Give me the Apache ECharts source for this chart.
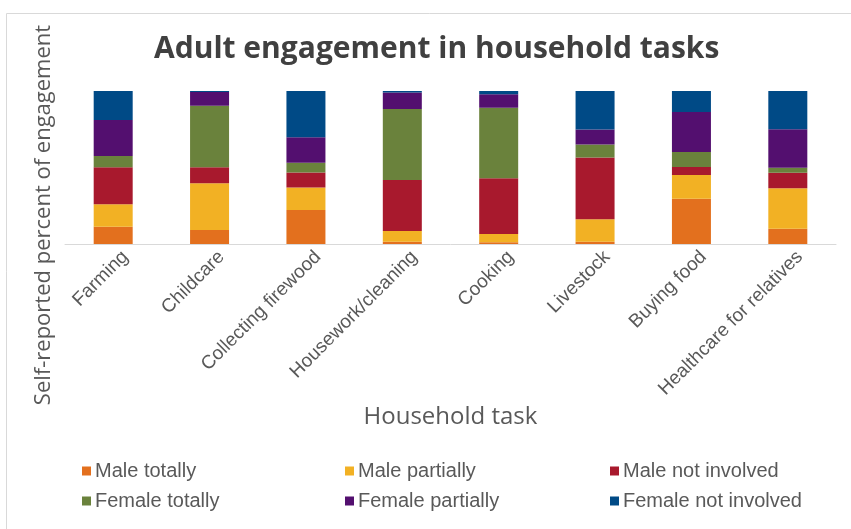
<!DOCTYPE html>
<html>
<head>
<meta charset="utf-8">
<script src="https://cdn.jsdelivr.net/npm/echarts@6/dist/echarts.min.js"></script>
<style>
  html, body { margin: 0; padding: 0; background: #fff; }
  #chart { width: 851px; height: 529px; }
</style>
</head>
<body>
<div id="chart"></div>
<script>
// categories and series values (percent of engagement)
const tasks = ["Farming", "Childcare", "Collecting firewood", "Housework/cleaning",
  "Cooking", "Livestock", "Buying food", "Healthcare for relatives"];
const maleTotally = [11.3, 9.2, 22.2, 1.5, 1.1, 1.5, 29.6, 10.0];
const malePartially = [14.6, 30.5, 14.8, 7.0, 5.4, 14.6, 15.5, 26.4];
const maleNotInvolved = [24.2, 10.5, 9.8, 33.3, 36.4, 40.5, 5.2, 10.2];
const femaleTotally = [7.4, 40.2, 6.3, 46.4, 46.2, 8.5, 9.8, 3.3];
const femalePartially = [23.5, 8.9, 16.6, 10.9, 8.7, 9.8, 26.1, 25.1];
const femaleNotInvolved = [19.0, 0.7, 30.3, 0.9, 2.2, 25.1, 13.8, 25.0];

const names = ["Male totally", "Male partially", "Male not involved",
  "Female totally", "Female partially", "Female not involved"];
const colors = ["#E3701E", "#F2B124", "#A8192D", "#6A823C", "#530F6F", "#004A86"];
const values = [maleTotally, malePartially, maleNotInvolved,
  femaleTotally, femalePartially, femaleNotInvolved];

// legend slots: 3 columns x 2 rows
const legendPos = [
  [77, 456], [340, 456], [605, 456],
  [77, 486], [340, 486], [605, 486]
];

let myChart = echarts.init(document.getElementById("chart"));
myChart.setOption({
  animation: false,
  color: colors,
  title: {
    text: "Adult engagement in household tasks",
    left: 149,
    top: 29,
    textStyle: {
      color: "#404040",
      fontFamily: "Open Sans",
      fontWeight: "bold",
      fontSize: 30
    }
  },
  graphic: [{
    type: "rect",
    shape: { x: 6.5, y: 13.5, width: 900, height: 600 },
    style: { fill: "none", stroke: "#d9d9d9", lineWidth: 1 },
    silent: true
  }],
  legend: names.map((n, i) => ({
    data: [n],
    left: legendPos[i][0],
    top: legendPos[i][1],
    itemWidth: 9,
    itemHeight: 9,
    itemGap: 4,
    icon: "rect",
    textStyle: {
      color: "#595959",
      fontFamily: "Liberation Sans",
      fontSize: 20,
      padding: [0, 0, 0, -1]
    }
  })),
  grid: {
    left: 65,
    right: 15,
    top: 91,
    bottom: 285
  },
  xAxis: {
    type: "category",
    data: tasks,
    name: "Household task",
    nameLocation: "middle",
    nameGap: 161,
    nameTextStyle: {
      color: "#595959",
      fontFamily: "Open Sans",
      fontSize: 24
    },
    axisLine: { lineStyle: { color: "#d9d9d9" } },
    axisTick: { show: false },
    axisLabel: {
      rotate: 45,
      margin: 22,
      padding: [0, -17, 0, 0],
      color: "#595959",
      fontFamily: "Liberation Sans",
      fontSize: 19
    }
  },
  yAxis: {
    type: "value",
    min: 0,
    max: 100,
    name: "Self-reported percent of engagement",
    nameLocation: "middle",
    nameGap: 10,
    nameTextStyle: {
      color: "#595959",
      fontFamily: "Open Sans",
      fontSize: 22,
      padding: [0, 0, 0, -95]
    },
    axisLine: { show: false },
    axisTick: { show: false },
    axisLabel: { show: false },
    splitLine: { show: false }
  },
  series: names.map((n, i) => ({
    name: n,
    type: "bar",
    stack: "all",
    barWidth: 39,
    data: values[i]
  }))
});
</script>
</body>
</html>
